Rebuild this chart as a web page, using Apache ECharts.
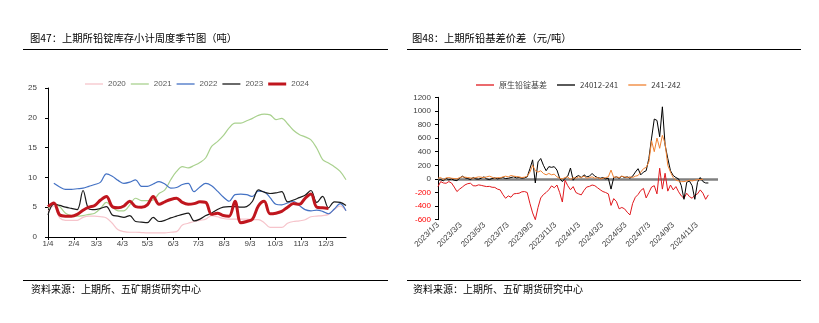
<!DOCTYPE html>
<html><head><meta charset="utf-8">
<script src="https://cdn.jsdelivr.net/npm/echarts@6/dist/echarts.min.js"></script>
<style>html,body{margin:0;padding:0;background:#fff}#c{width:819px;height:323px}</style>
</head><body><div id="c"></div>
<script>
// ---------- Chart 47: weekly lead ingot inventory, seasonal ----------
const seasonYears = ['2020','2021','2022','2023','2024'];
const inv2020 = [4.3,5.2,3.2,2.8,2.8,2.8,3.3,3.5,3.5,3.4,3.2,2.3,1.2,0.9,0.8,0.8,0.75,0.7,0.7,0.7,0.7,0.8,0.9,2.0,2.3,2.6,2.8,3.0,3.6,3.4,3.1,3.0,3.0,3.0,3.0,2.9,2.9,2.4,1.6,1.6,1.6,2.3,2.6,2.7,2.9,3.4,3.5,3.6,3.8,4.6,5.2,4.4];
const inv2021 = [4.8,5.6,5.1,4.0,3.6,3.5,3.6,3.8,4.0,4.8,5.8,5.0,4.4,4.4,5.4,6.5,6.1,6.1,6.2,7.3,7.9,9.6,11.0,11.8,11.6,12.0,12.5,13.3,15.2,16.0,17.0,18.3,19.1,19.1,19.5,19.9,20.4,20.6,20.5,19.7,19.9,19.0,17.9,17.2,16.8,16.3,14.9,13.0,12.4,11.8,11.0,9.6];
const inv2022 = [null,9.0,8.4,8.0,8.0,8.1,8.2,8.5,8.8,9.2,10.6,10.2,9.5,9.0,9.2,9.6,8.5,8.5,8.9,9.3,8.9,8.2,8.3,8.8,9.0,7.6,8.4,9.0,8.6,7.7,6.7,6.0,7.1,7.2,7.1,6.8,7.7,7.6,6.6,5.5,5.4,5.7,6.0,5.3,4.6,4.4,4.5,4.3,3.9,4.7,5.6,4.4];
const inv2023 = [3.7,5.5,5.3,5.0,4.8,4.6,7.8,4.7,4.6,4.8,5.1,3.7,3.5,3.3,3.6,2.6,2.5,2.4,3.3,2.6,2.8,3.2,3.5,3.8,4.0,2.7,3.0,3.6,4.0,4.6,5.0,5.1,5.1,5.0,5.1,6.0,7.9,7.5,7.3,7.4,7.6,5.9,6.2,6.6,7.0,7.8,5.8,6.8,4.9,5.9,5.8,5.3];
const inv2024 = [5.1,5.7,3.7,3.5,3.5,3.8,4.5,5.0,5.3,6.2,6.8,5.1,4.9,5.2,6.0,5.1,5.0,5.4,6.8,5.5,5.9,6.3,6.5,5.8,5.5,5.6,5.9,5.8,3.8,4.0,3.6,3.5,6.0,2.4,2.6,3.0,5.2,6.0,3.9,4.0,4.3,5.0,5.6,5.5,6.5,7.2,5.0,4.9,4.8];
const seasonTickLabels = ['1/4','2/4','3/3','4/3','5/3','6/3','7/3','8/3','9/3','10/3','11/3','12/3'];
const seasonTickDays = [0,31,58,89,119,150,180,211,242,272,303,333];

// ---------- Chart 48: SHFE lead basis & spreads (weekly samples from 2023/1/3) ----------
const basisNames = ['原生铅锭基差','24012-241','241-242'];
const basisStart = '2023-01-03';
const basisSpot = [-113,-40,-60,-64,-40,-60,-120,-186,-150,-120,
 -88,-70,-64,-100,-103,-88,-95,-105,-113,-110,
 -123,-125,-150,-162,-230,-285,-250,-270,-220,-215,
 -211,-190,-186,-200,-360,-500,-600,-420,-280,-230,
 -200,-160,-103,-130,-90,-200,-340,-20,-100,-160,
 -113,-200,-220,-235,-170,-120,-110,-90,-100,-130,
 -160,-186,-200,-220,-390,-290,-333,-440,-420,-440,
 -490,-530,-360,-270,-230,-170,-140,-280,-200,-120,
 -100,-220,157,-150,83,-180,-90,-162,-113,-190,
 -250,-285,-211,-260,-285,-240,-220,-162,-211,-300,
 -235];
const basis2401 = [-20,-10,-30,10,-15,0,-20,-25,10,40,
 15,5,-10,20,0,-5,10,30,0,-10,
 5,15,0,10,20,5,10,20,30,15,
 20,10,15,30,150,280,-60,250,300,200,
 120,180,170,180,130,10,-40,10,40,160,
 -20,30,50,20,60,30,40,80,40,20,
 10,20,0,10,-150,20,30,10,40,20,
 30,10,40,100,150,60,100,120,300,600,
 880,860,620,1060,500,300,120,50,20,0,
 -100,-300,-50,-30,-100,-300,-50,20,-40,-60,
 -60];
const basis241 = [10,20,-10,15,20,10,5,0,20,30,
 25,20,15,10,20,30,25,20,30,40,
 25,10,20,15,30,40,30,50,40,35,
 30,20,25,40,100,200,120,100,120,80,
 60,80,60,70,30,10,0,20,30,-10,
 20,10,30,20,40,10,20,30,10,20,
 0,10,20,30,130,20,30,20,40,30,
 20,30,20,40,50,100,150,170,250,560,
 400,600,450,640,520,200,100,20,-20,-30,
 -40,-40,-30,-20,-30,-20,-10,-10,-5,null,
 null];
const basisTickLabels = ['2023/1/3','2023/3/3','2023/5/3','2023/7/3','2023/9/3','2023/11/3','2024/1/3','2024/3/3','2024/5/3','2024/7/3','2024/9/3','2024/11/3'];
const basisTickDates = ['2023-01-03','2023-03-03','2023-05-03','2023-07-03','2023-09-03','2023-11-03','2024-01-03','2024-03-03','2024-05-03','2024-07-03','2024-09-03','2024-11-03'];

// ---------- build ----------
const NUM = '"Liberation Sans", Arial, "Noto Sans CJK SC", sans-serif';
const CJK = '"Noto Sans CJK SC", "Liberation Sans", sans-serif';
const dayMs = 86400000;
const t0 = Date.parse(basisStart + 'T00:00:00Z');
const dayOf = s => Math.round((Date.parse(s + 'T00:00:00Z') - t0) / dayMs);

const seasonTickWeeks = seasonTickDays.map(d => d / 7);
const seasonLabel = v => { const i = seasonTickWeeks.findIndex(w => Math.abs(w - v) < 1e-6); return i >= 0 ? seasonTickLabels[i] : ''; };
const basisTickDays = basisTickDates.map(dayOf);
const basisLabel = v => { const i = basisTickDays.findIndex(d => Math.abs(d - v) < 1e-6); return i >= 0 ? basisTickLabels[i] : ''; };

const weekly = arr => arr.map((v, i) => [i, v == null ? '-' : v]);
const basisPts = arr => arr.map((v, k) => [k * 7, v == null ? '-' : v]);

const seasonColors = ['#F6C4CB','#A9D18E','#4472C4','#1A1A1A','#C0161E'];
const seasonWidths = [1.2,1.2,1.2,1.2,3];
const seasonData = [inv2020, inv2021, inv2022, inv2023, inv2024];

const thinIcon = 'path://M0,0L18,0L18,1.3L0,1.3Z';
const thickIcon = 'path://M0,0L18,0L18,3L0,3Z';

const series = seasonYears.map((name, i) => ({
  name, type: 'line', xAxisIndex: 0, yAxisIndex: 0,
  data: weekly(seasonData[i]), symbol: 'none', smooth: 0.35,
  lineStyle: { color: seasonColors[i], width: seasonWidths[i] },
  itemStyle: { color: seasonColors[i] }, z: 2 + i
}));

const basisColors = ['#E0191E','#000000','#F08232'];
[basisSpot, basis2401, basis241].forEach((arr, i) => {
  const s = {
    name: basisNames[i], type: 'line', xAxisIndex: 1, yAxisIndex: 1,
    data: basisPts(arr), symbol: 'none',
    lineStyle: { color: basisColors[i], width: 1 },
    itemStyle: { color: basisColors[i] }, z: 3 + i
  };
  if (i === 0) {
    s.markLine = { silent: true, symbol: 'none', label: { show: false },
      lineStyle: { color: '#808080', width: 2.5, type: 'solid' },
      data: [{ yAxis: 0 }], z: 1 };
  }
  series.push(s);
});

const option = {
  animation: false,
  backgroundColor: '#ffffff',
  textStyle: { fontFamily: NUM },
  grid: [
    { left: 48, top: 88, width: 298, height: 149 },
    { left: 438, top: 97.3, width: 280, height: 122.4 }
  ],
  legend: [
    { data: seasonYears.map((n, i) => ({ name: n, icon: i === 4 ? thickIcon : thinIcon })),
      left: 80, top: 75, itemWidth: 18, itemHeight: 8, itemGap: 5, symbolKeepAspect: true,
      textStyle: { fontSize: 8, color: '#595959', fontFamily: NUM } },
    { data: basisNames.map(n => ({ name: n, icon: thinIcon })),
      left: 471, top: 76, itemWidth: 18, itemHeight: 8, itemGap: 10, symbolKeepAspect: true,
      textStyle: { fontSize: 8, color: '#404040', fontFamily: CJK } }
  ],
  xAxis: [
    { gridIndex: 0, type: 'value', min: 0, max: 51,
      axisLine: { show: true, onZero: false, lineStyle: { color: '#000', width: 1 } },
      axisTick: { show: true, customValues: seasonTickWeeks, length: 3, lineStyle: { color: '#000' } },
      axisLabel: { customValues: seasonTickWeeks, formatter: seasonLabel, fontSize: 8, color: '#404040', margin: 3 },
      splitLine: { show: false } },
    { gridIndex: 1, type: 'value', min: 0, max: 725,
      axisLine: { show: false, onZero: false },
      axisTick: { show: false, customValues: basisTickDays },
      axisLabel: { customValues: basisTickDays, formatter: basisLabel, rotate: 45, fontSize: 8, color: '#404040', margin: 4 },
      splitLine: { show: false } }
  ],
  yAxis: [
    { gridIndex: 0, type: 'value', min: 0, max: 25, interval: 5,
      axisLine: { show: true, lineStyle: { color: '#000', width: 1 } },
      axisTick: { show: true, length: 3, lineStyle: { color: '#000' } },
      axisLabel: { fontSize: 8, color: '#404040', margin: 11 },
      splitLine: { show: false } },
    { gridIndex: 1, type: 'value', min: -600, max: 1200, interval: 200,
      axisLine: { show: true, lineStyle: { color: '#000', width: 1 } },
      axisTick: { show: true, length: 3, lineStyle: { color: '#000' } },
      axisLabel: { fontSize: 8, color: '#404040', margin: 7,
        formatter: v => v < 0 ? '{neg|' + v + '}' : String(v),
        rich: { neg: { color: '#FF0000', fontSize: 8, fontFamily: NUM } } },
      splitLine: { show: false } }
  ],
  graphic: [
    { type: 'text', left: 30, top: 33, style: { text: '图47：上期所铅锭库存小计周度季节图（吨）', font: '10.3px ' + CJK, fill: '#000' } },
    { type: 'text', left: 412, top: 33, style: { text: '图48：上期所铅基差价差（元/吨）', font: '10.3px ' + CJK, fill: '#000' } },
    { type: 'line', shape: { x1: 23, y1: 49.5, x2: 388, y2: 49.5 }, style: { stroke: '#000', lineWidth: 1.2 } },
    { type: 'line', shape: { x1: 407, y1: 49.5, x2: 801, y2: 49.5 }, style: { stroke: '#000', lineWidth: 1.2 } },
    { type: 'line', shape: { x1: 23, y1: 280.5, x2: 388, y2: 280.5 }, style: { stroke: '#000', lineWidth: 1.2 } },
    { type: 'line', shape: { x1: 407, y1: 280.5, x2: 801, y2: 280.5 }, style: { stroke: '#000', lineWidth: 1.2 } },
    { type: 'text', left: 31, top: 284, style: { text: '资料来源：上期所、五矿期货研究中心', font: '10px ' + CJK, fill: '#000' } },
    { type: 'text', left: 413, top: 284, style: { text: '资料来源：上期所、五矿期货研究中心', font: '10px ' + CJK, fill: '#000' } }
  ],
  series
};
const chart = echarts.init(document.getElementById('c'));
chart.setOption(option);
</script>
</body></html>
